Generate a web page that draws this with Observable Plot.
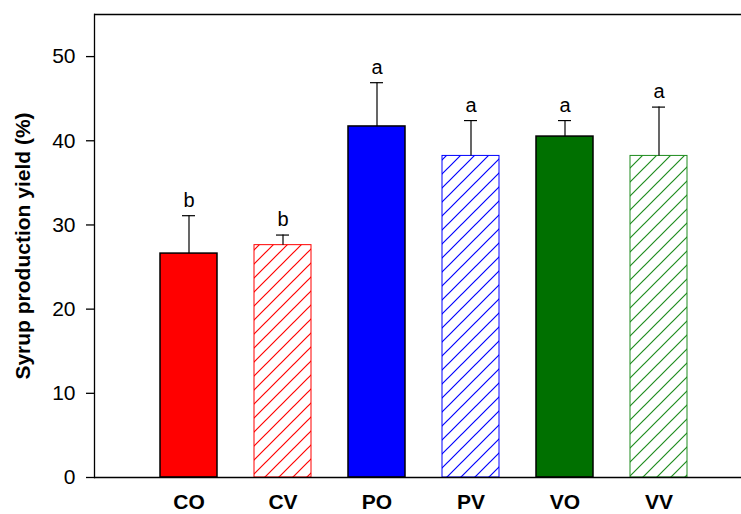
<!DOCTYPE html>
<html>
<head>
<meta charset="utf-8">
<script src="https://cdn.jsdelivr.net/npm/d3@7"></script>
<script src="https://cdn.jsdelivr.net/npm/@observablehq/plot@0.6"></script>
<style>
  html, body { margin: 0; padding: 0; background: #fff; }
  #chart svg { display: block; }
</style>
</head>
<body>
<div id="chart"></div>
<script>
// ---- data ----
const categories = ["CO", "CV", "PO", "PV", "VO", "VV"];
const means      = [26.6, 27.6, 41.7, 38.2, 40.5, 38.2];
const errors     = [4.5, 1.2, 5.2, 4.2, 1.9, 5.8];
const letters    = ["b", "b", "a", "a", "a", "a"];
const hatched    = [false, true, false, true, false, true];
const colors     = ["#ff0000", "#ff0000", "#0000ff", "#0000ff", "#007000", "#1e8c1e"];
const yTicks     = [0, 10, 20, 30, 40, 50];
const yLabel     = "Syrup production yield (%)";

const rows = categories.map((c, i) => ({
  cat: c,
  mean: means[i],
  top: means[i] + errors[i],
  letter: letters[i],
  fill: hatched[i] ? `url(#hatch-${i})` : colors[i],
  stroke: hatched[i] ? colors[i] : "#000",
  sw: hatched[i] ? 1 : 1.5
}));

const font = "'Liberation Sans', Arial, sans-serif";

const chart = Plot.plot({
  width: 741,
  height: 514,
  marginTop: 14,
  marginBottom: 37,
  marginLeft: 94,
  marginRight: 0,
  style: { fontFamily: font, color: "#000", background: "#fff" },
  x: { domain: categories, range: [94, 752], paddingInner: 0.394, paddingOuter: 0.697 },
  y: { domain: [0, 55] },
  color: { type: "identity" },
  marks: [
    Plot.barY(rows, { x: "cat", y: "mean", fill: "fill", stroke: "stroke", strokeWidth: "sw" }),
    Plot.ruleX(rows, { x: "cat", y1: "mean", y2: "top", stroke: "#000", strokeWidth: 1.2 }),
    Plot.tickY(rows, { x: "cat", y: "top", stroke: "#000", strokeWidth: 1.2, insetLeft: 22, insetRight: 22 }),
    Plot.text(rows, { x: "cat", y: "top", text: "letter", dy: -9, lineAnchor: "bottom", fontSize: 20, fill: "#000" }),
    Plot.ruleY([0], { stroke: "#000", strokeWidth: 1.3 }),
    Plot.ruleY([55], { stroke: "#000", strokeWidth: 1.3 }),
    Plot.frame({ anchor: "left", stroke: "#000", strokeWidth: 1.3 }),
    Plot.axisY({ ticks: yTicks, tickSize: 8, tickPadding: 11, fontSize: 21, label: null, strokeWidth: 1.3 }),
    Plot.axisX({ tickSize: 0, tickPadding: 17, fontSize: 21, fontWeight: "bold", label: null }),
    Plot.text([yLabel], { frameAnchor: "left", rotate: -90, dx: -71, fontSize: 21, fontWeight: "bold", fill: "#000", textAnchor: "middle" })
  ]
});

// hatch patterns
const svg = d3.select(chart);
const defs = svg.insert("defs", ":first-child");
rows.forEach((r, i) => {
  if (!hatched[i]) return;
  const p = defs.append("pattern")
    .attr("id", `hatch-${i}`)
    .attr("patternUnits", "userSpaceOnUse")
    .attr("width", 14)
    .attr("height", 14);
  p.append("rect").attr("width", 14).attr("height", 14).attr("fill", "#fff");
  p.append("path")
    .attr("d", "M0,14 L14,0 M-3.5,3.5 L3.5,-3.5 M10.5,17.5 L17.5,10.5")
    .attr("stroke", colors[i])
    .attr("stroke-width", 1.2)
    .attr("fill", "none");
});

document.getElementById("chart").appendChild(chart);
</script>
</body>
</html>
